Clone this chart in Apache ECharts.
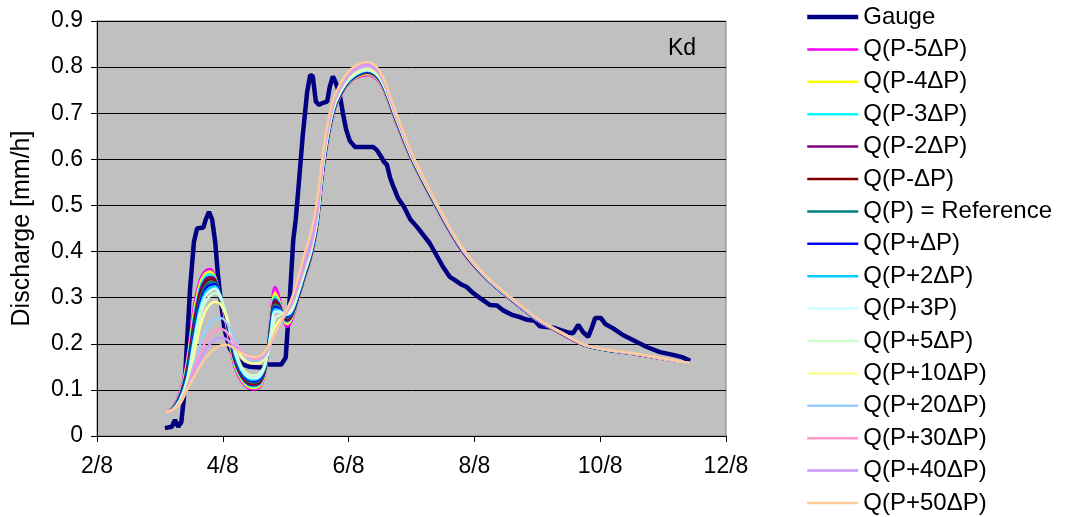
<!DOCTYPE html>
<html>
<head>
<meta charset="utf-8">
<script src="https://cdn.jsdelivr.net/npm/echarts@6/dist/echarts.min.js"></script>
<style>
html,body{margin:0;padding:0;background:#fff;}
#c{width:1065px;height:517px;}
</style>
</head>
<body>
<div id="c"></div>
<script>
// ---- data ----
const xTicks = [2, 4, 6, 8, 10, 12];
const xTickLabels = ['2/8', '4/8', '6/8', '8/8', '10/8', '12/8'];
const yTickLabels = ['0', '0.1', '0.2', '0.3', '0.4', '0.5', '0.6', '0.7', '0.8', '0.9'];

const gaugeX = [3.08, 3.19, 3.24, 3.29, 3.34, 3.38, 3.43, 3.48, 3.54, 3.59, 3.69, 3.73, 3.78, 3.83, 3.88, 3.92, 3.97, 4.03, 4.11, 4.21, 4.32, 4.43, 4.64, 4.70, 4.93, 5.00, 5.04, 5.07, 5.12, 5.16, 5.21, 5.27, 5.34, 5.39, 5.43, 5.48, 5.53, 5.58, 5.66, 5.70, 5.75, 5.80, 5.86, 5.91, 5.96, 6.02, 6.10, 6.39, 6.45, 6.52, 6.56, 6.61, 6.66, 6.72, 6.79, 6.88, 6.98, 7.09, 7.29, 7.50, 7.61, 7.69, 7.80, 7.88, 7.98, 8.09, 8.25, 8.36, 8.45, 8.61, 8.72, 8.84, 8.96, 9.04, 9.28, 9.47, 9.57, 9.65, 9.73, 9.81, 9.87, 9.92, 10.01, 10.08, 10.20, 10.36, 10.52, 10.74, 10.95, 11.16, 11.30, 11.43];
const gaugeY = [0.017, 0.02, 0.035, 0.02, 0.03, 0.08, 0.2, 0.32, 0.42, 0.45, 0.452, 0.47, 0.486, 0.47, 0.42, 0.353, 0.29, 0.23, 0.19, 0.168, 0.155, 0.15, 0.148, 0.155, 0.155, 0.17, 0.25, 0.31, 0.425, 0.47, 0.55, 0.65, 0.745, 0.783, 0.78, 0.725, 0.718, 0.722, 0.725, 0.757, 0.78, 0.765, 0.74, 0.70, 0.665, 0.64, 0.627, 0.627, 0.62, 0.605, 0.595, 0.588, 0.56, 0.538, 0.515, 0.497, 0.47, 0.453, 0.418, 0.367, 0.345, 0.338, 0.328, 0.323, 0.31, 0.299, 0.284, 0.283, 0.273, 0.262, 0.258, 0.252, 0.25, 0.238, 0.234, 0.225, 0.223, 0.241, 0.225, 0.215, 0.236, 0.256, 0.256, 0.243, 0.234, 0.219, 0.208, 0.193, 0.182, 0.176, 0.171, 0.163];

const simX = [3.08, 3.2, 3.32, 3.43, 3.54, 3.64, 3.72, 3.8, 3.88, 3.96, 4.04, 4.12, 4.2, 4.3, 4.4, 4.5, 4.6, 4.68, 4.76, 4.83, 4.9, 4.96, 5.02, 5.1, 5.2, 5.3, 5.4, 5.5, 5.6, 5.7, 5.8, 5.95, 6.1, 6.3, 6.5, 6.75, 7.0, 7.4, 7.8, 8.2, 8.6, 9.0, 9.4, 9.81, 10.6, 11.43];

const qPm5 = [0.05, 0.062, 0.095, 0.165, 0.28, 0.34, 0.358, 0.362, 0.345, 0.30, 0.25, 0.19, 0.145, 0.118, 0.104, 0.101, 0.108, 0.14, 0.26, 0.323, 0.30, 0.255, 0.237, 0.252, 0.295, 0.34, 0.385, 0.45, 0.575, 0.66, 0.715, 0.755, 0.775, 0.783, 0.765, 0.68, 0.597, 0.492, 0.40, 0.338, 0.292, 0.25, 0.22, 0.193, 0.176, 0.157];
const qPm4 = [0.05, 0.061, 0.092, 0.158, 0.268, 0.332, 0.352, 0.356, 0.343, 0.302, 0.254, 0.195, 0.15, 0.122, 0.107, 0.104, 0.111, 0.142, 0.255, 0.31, 0.292, 0.255, 0.243, 0.256, 0.297, 0.342, 0.387, 0.452, 0.577, 0.662, 0.716, 0.756, 0.776, 0.785, 0.767, 0.682, 0.598, 0.493, 0.401, 0.339, 0.293, 0.251, 0.221, 0.193, 0.176, 0.157];
const qPm3 = [0.05, 0.06, 0.09, 0.152, 0.258, 0.324, 0.346, 0.35, 0.341, 0.303, 0.257, 0.2, 0.154, 0.125, 0.11, 0.107, 0.114, 0.145, 0.25, 0.302, 0.288, 0.257, 0.247, 0.259, 0.299, 0.343, 0.388, 0.454, 0.579, 0.664, 0.717, 0.757, 0.777, 0.787, 0.769, 0.684, 0.600, 0.494, 0.402, 0.339, 0.293, 0.251, 0.221, 0.193, 0.176, 0.157];
const qPm2 = [0.05, 0.06, 0.088, 0.146, 0.248, 0.316, 0.339, 0.345, 0.339, 0.304, 0.26, 0.204, 0.158, 0.128, 0.113, 0.11, 0.117, 0.147, 0.245, 0.296, 0.285, 0.259, 0.25, 0.261, 0.301, 0.345, 0.389, 0.456, 0.58, 0.665, 0.718, 0.758, 0.778, 0.788, 0.770, 0.685, 0.601, 0.495, 0.402, 0.340, 0.294, 0.252, 0.221, 0.194, 0.176, 0.157];
const qPm1 = [0.05, 0.059, 0.086, 0.14, 0.238, 0.307, 0.332, 0.34, 0.336, 0.305, 0.263, 0.208, 0.162, 0.131, 0.116, 0.113, 0.12, 0.149, 0.24, 0.29, 0.282, 0.261, 0.253, 0.263, 0.302, 0.346, 0.39, 0.458, 0.582, 0.667, 0.72, 0.759, 0.779, 0.789, 0.771, 0.686, 0.602, 0.496, 0.403, 0.340, 0.294, 0.252, 0.221, 0.194, 0.176, 0.157];
const qRef = [0.05, 0.059, 0.084, 0.135, 0.229, 0.298, 0.325, 0.334, 0.333, 0.305, 0.265, 0.212, 0.166, 0.134, 0.119, 0.116, 0.123, 0.151, 0.235, 0.285, 0.279, 0.262, 0.256, 0.265, 0.304, 0.348, 0.392, 0.46, 0.584, 0.668, 0.721, 0.76, 0.78, 0.790, 0.772, 0.688, 0.603, 0.497, 0.404, 0.341, 0.295, 0.252, 0.222, 0.194, 0.177, 0.157];
const qPp1 = [0.05, 0.058, 0.082, 0.13, 0.22, 0.29, 0.318, 0.328, 0.329, 0.305, 0.267, 0.216, 0.17, 0.137, 0.122, 0.119, 0.126, 0.153, 0.23, 0.28, 0.276, 0.264, 0.259, 0.268, 0.306, 0.35, 0.394, 0.462, 0.586, 0.67, 0.722, 0.761, 0.781, 0.791, 0.773, 0.689, 0.604, 0.498, 0.404, 0.341, 0.295, 0.253, 0.222, 0.194, 0.177, 0.157];
const qPp2 = [0.05, 0.058, 0.08, 0.125, 0.211, 0.281, 0.311, 0.322, 0.325, 0.305, 0.269, 0.22, 0.174, 0.14, 0.125, 0.122, 0.129, 0.155, 0.225, 0.275, 0.273, 0.265, 0.262, 0.27, 0.308, 0.352, 0.396, 0.464, 0.588, 0.672, 0.724, 0.762, 0.782, 0.792, 0.774, 0.690, 0.605, 0.499, 0.405, 0.342, 0.295, 0.253, 0.222, 0.195, 0.177, 0.157];
const qPp3 = [0.05, 0.057, 0.078, 0.12, 0.202, 0.272, 0.303, 0.315, 0.32, 0.304, 0.27, 0.224, 0.178, 0.144, 0.128, 0.125, 0.132, 0.157, 0.22, 0.27, 0.27, 0.266, 0.264, 0.273, 0.31, 0.354, 0.398, 0.466, 0.59, 0.674, 0.725, 0.763, 0.783, 0.793, 0.775, 0.691, 0.606, 0.500, 0.406, 0.342, 0.296, 0.253, 0.222, 0.195, 0.177, 0.157];
const qPp5 = [0.05, 0.057, 0.075, 0.115, 0.19, 0.258, 0.29, 0.304, 0.31, 0.3, 0.27, 0.228, 0.185, 0.15, 0.134, 0.131, 0.138, 0.16, 0.21, 0.255, 0.262, 0.264, 0.266, 0.277, 0.314, 0.358, 0.402, 0.47, 0.594, 0.677, 0.728, 0.765, 0.785, 0.795, 0.777, 0.693, 0.607, 0.501, 0.407, 0.343, 0.296, 0.254, 0.223, 0.195, 0.177, 0.157];
const qPp10 = [0.051, 0.057, 0.074, 0.11, 0.175, 0.237, 0.27, 0.286, 0.291, 0.286, 0.265, 0.23, 0.196, 0.172, 0.16, 0.157, 0.16, 0.172, 0.2, 0.235, 0.25, 0.258, 0.265, 0.28, 0.318, 0.362, 0.406, 0.474, 0.598, 0.68, 0.731, 0.768, 0.788, 0.797, 0.779, 0.694, 0.608, 0.502, 0.407, 0.343, 0.297, 0.254, 0.223, 0.195, 0.177, 0.157];
const qPp20 = [0.051, 0.056, 0.072, 0.105, 0.155, 0.198, 0.226, 0.245, 0.254, 0.256, 0.25, 0.232, 0.208, 0.182, 0.168, 0.163, 0.165, 0.176, 0.2, 0.225, 0.243, 0.256, 0.268, 0.285, 0.323, 0.367, 0.41, 0.478, 0.602, 0.684, 0.734, 0.771, 0.792, 0.801, 0.782, 0.696, 0.610, 0.503, 0.408, 0.344, 0.297, 0.254, 0.223, 0.195, 0.177, 0.158];
const qPp30 = [0.051, 0.056, 0.071, 0.102, 0.145, 0.18, 0.203, 0.219, 0.229, 0.232, 0.228, 0.216, 0.2, 0.184, 0.172, 0.167, 0.169, 0.18, 0.2, 0.222, 0.24, 0.255, 0.27, 0.29, 0.328, 0.372, 0.415, 0.485, 0.607, 0.688, 0.737, 0.774, 0.795, 0.804, 0.784, 0.698, 0.611, 0.504, 0.409, 0.344, 0.297, 0.254, 0.223, 0.195, 0.177, 0.158];
const qPp40 = [0.052, 0.056, 0.07, 0.1, 0.135, 0.165, 0.185, 0.2, 0.209, 0.213, 0.211, 0.203, 0.193, 0.182, 0.174, 0.17, 0.172, 0.182, 0.2, 0.22, 0.24, 0.256, 0.273, 0.295, 0.335, 0.38, 0.422, 0.495, 0.612, 0.693, 0.74, 0.777, 0.798, 0.807, 0.786, 0.699, 0.612, 0.504, 0.409, 0.344, 0.297, 0.254, 0.223, 0.195, 0.177, 0.158];
const qPp50 = [0.052, 0.056, 0.07, 0.1, 0.128, 0.152, 0.168, 0.18, 0.19, 0.196, 0.198, 0.195, 0.188, 0.18, 0.174, 0.171, 0.174, 0.185, 0.203, 0.222, 0.242, 0.258, 0.275, 0.3, 0.345, 0.395, 0.44, 0.51, 0.62, 0.7, 0.745, 0.782, 0.802, 0.811, 0.790, 0.702, 0.615, 0.505, 0.41, 0.345, 0.298, 0.255, 0.223, 0.195, 0.178, 0.158];

const simNames = ['Q(P-5ΔP)', 'Q(P-4ΔP)', 'Q(P-3ΔP)', 'Q(P-2ΔP)', 'Q(P-ΔP)', 'Q(P) = Reference', 'Q(P+ΔP)', 'Q(P+2ΔP)', 'Q(P+3P)', 'Q(P+5ΔP)', 'Q(P+10ΔP)', 'Q(P+20ΔP)', 'Q(P+30ΔP)', 'Q(P+40ΔP)', 'Q(P+50ΔP)'];
const simValues = [qPm5, qPm4, qPm3, qPm2, qPm1, qRef, qPp1, qPp2, qPp3, qPp5, qPp10, qPp20, qPp30, qPp40, qPp50];
const simColors = ['#FF00FF', '#FFFF00', '#00FFFF', '#800080', '#800000', '#008080', '#0000FF', '#00CCFF', '#CCFFFF', '#CCFFCC', '#FFFF99', '#99CCFF', '#FF99CC', '#CC99FF', '#FFCC99'];

// ---- chart ----
const FONT = "'Liberation Sans', Arial, sans-serif";
const chart = echarts.init(document.getElementById('c'), null, {renderer: 'canvas'});

const series = [{
  name: 'Gauge',
  type: 'line',
  data: gaugeX.map((x, i) => [x, gaugeY[i]]),
  symbol: 'none',
  lineStyle: {color: '#000080', width: 4.5},
  itemStyle: {color: '#000080'},
  z: 2
}];
simNames.forEach((n, k) => {
  series.push({
    name: n,
    type: 'line',
    data: simX.map((x, i) => [x, simValues[k][i]]),
    symbol: 'none',
    smooth: 0.35,
    lineStyle: {color: simColors[k], width: 2.5},
    itemStyle: {color: simColors[k]},
    z: 3
  });
});

const legendData = [{name: 'Gauge', lineStyle: {width: 4.5, color: '#000080'}}].concat(
  simNames.map((n, k) => ({name: n, lineStyle: {width: 2.5, color: simColors[k]}}))
);

chart.setOption({
  animation: false,
  backgroundColor: '#ffffff',
  textStyle: {fontFamily: FONT},
  grid: {
    left: 97, right: 339, top: 21, bottom: 81,
    show: true, backgroundColor: '#C0C0C0', borderColor: '#808080', borderWidth: 1
  },
  xAxis: {
    type: 'value', min: 2, max: 12, interval: 2,
    axisLine: {show: true, onZero: false, lineStyle: {color: '#000', width: 1}},
    axisTick: {show: true, inside: false, length: 6, lineStyle: {color: '#000'}},
    splitLine: {show: false},
    axisLabel: {
      color: '#000', fontSize: 23, fontFamily: FONT, margin: 19,
      formatter: v => xTickLabels[xTicks.indexOf(v)]
    }
  },
  yAxis: {
    type: 'value', min: 0, max: 0.9, interval: 0.1,
    name: 'Discharge [mm/h]', nameLocation: 'middle', nameGap: 62,
    nameTextStyle: {color: '#000', fontSize: 25, fontFamily: FONT},
    axisLine: {show: true, lineStyle: {color: '#000', width: 1}},
    axisTick: {show: true, inside: false, length: 6, lineStyle: {color: '#000'}},
    splitLine: {show: true, lineStyle: {color: '#000', width: 1}},
    axisLabel: {
      color: '#000', fontSize: 23, fontFamily: FONT, margin: 14,
      formatter: v => yTickLabels[Math.round(v * 10)]
    }
  },
  legend: {
    orient: 'vertical', left: 800, top: 0, height: 600,
    itemWidth: 51, itemHeight: 14, itemGap: 8.4,
    itemStyle: {opacity: 0},
    textStyle: {color: '#000', fontSize: 24, fontFamily: FONT, lineHeight: 24},
    data: legendData
  },
  graphic: [{
    type: 'text', left: 668, top: 37,
    style: {text: 'Kd', fill: '#000', font: '23px ' + FONT}
  }],
  series: series
});
</script>
</body>
</html>
